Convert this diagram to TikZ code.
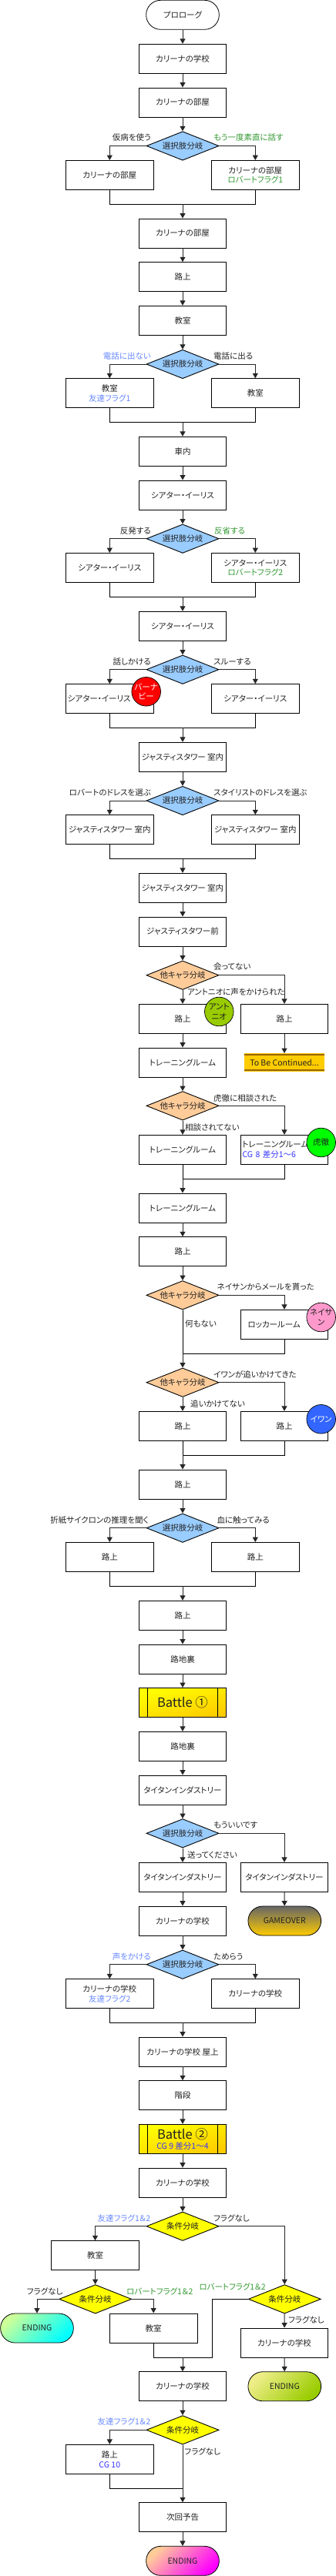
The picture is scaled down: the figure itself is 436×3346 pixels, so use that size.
\documentclass[tikz,border=0pt]{standalone}
\usepackage{fontspec}
\setmainfont[RawFeature={+palt}]{Noto Sans CJK JP}
\usetikzlibrary{arrows.meta,shapes.geometric}
\definecolor{selfill}{HTML}{99CCFF}
\definecolor{charafill}{HTML}{FFCC99}
\definecolor{condfill}{HTML}{FFFF00}
\definecolor{gold}{HTML}{FFCC00}
\definecolor{goldline}{HTML}{996600}
\definecolor{robertc}{HTML}{339933}
\definecolor{friendc}{HTML}{6688FF}
\definecolor{cgc}{HTML}{3333FF}
\definecolor{ink}{HTML}{222222}
\definecolor{leaf}{HTML}{99CC00}
\definecolor{paleleaf}{HTML}{EEEE88}
\definecolor{palemint}{HTML}{CCFF99}
\definecolor{rose}{HTML}{FF99CC}
\definecolor{ivanblue}{HTML}{3366FF}
\tikzset{
  txt/.style={font=\fontsize{10.5}{12.7}\selectfont,text=ink},
  box/.style={txt,draw=black,line width=0.9pt,fill=white,minimum width=113.7pt,minimum height=38pt,inner sep=0pt,align=center},
  leftbox/.style={box,text width=109pt,align=left},
  diam/.style={txt,diamond,draw=black,line width=0.9pt,shape aspect=2.5,minimum width=94pt,minimum height=37.5pt,inner sep=0pt},
  selbr/.style={diam,fill=selfill},
  charabr/.style={diam,fill=charafill},
  condbr/.style={diam,fill=condfill},
  term/.style={txt,draw=black,line width=0.8pt,rounded corners=18.9pt,minimum width=94.7pt,minimum height=38pt,inner sep=0pt},
  battlebox/.style={box,top color=yellow,bottom color=gold,shading angle=15,
    path picture={\draw[line width=0.8pt] ([xshift=11pt]path picture bounding box.north west) -- ([xshift=11pt]path picture bounding box.south west);
      \draw[line width=0.8pt] ([xshift=-11pt]path picture bounding box.north east) -- ([xshift=-11pt]path picture bounding box.south east);}},
  tbcbox/.style={txt,fill=gold,minimum width=104pt,minimum height=23.4pt,inner sep=0pt,
    path picture={\draw[goldline,line width=1.6pt] ([yshift=-1.8pt]path picture bounding box.north west) -- ([yshift=-1.8pt]path picture bounding box.north east);
      \draw[goldline,line width=1.6pt] ([yshift=1.8pt]path picture bounding box.south west) -- ([yshift=1.8pt]path picture bounding box.south east);}},
  chara/.style={txt,circle,draw=black,line width=0.7pt,minimum size=37.6pt,inner sep=0pt,align=center},
  optl/.style={txt,anchor=east,inner sep=0pt},
  optr/.style={txt,anchor=west,inner sep=0pt},
  flow/.style={-{Triangle[length=6.5pt,width=7pt]},line width=1pt,draw=black!85},
  wire/.style={line width=0.9pt,draw=black}
}
\newcommand{\robertflag}[1]{\textcolor{robertc}{#1}}
\newcommand{\friendflag}[1]{\textcolor{friendc}{#1}}
\newcommand{\cgnote}[1]{\textcolor{cgc}{#1}}
\begin{document}
\begin{tikzpicture}[x=1pt,y=-1pt]
\useasboundingbox (0,0) rectangle (436,3346);
\node[term,fill=white] (prologue) at (237,19.3) {プロローグ};
\node[box] (school1) at (237,76.3) {カリーナの学校};
\node[box] (room1) at (237,133) {カリーナの部屋};
\node[selbr] (sel1) at (237,189.5) {選択肢分岐};
\node[box] (room2) at (142.3,227.5) {カリーナの部屋};
\node[box] (room3) at (331.3,227.5) {カリーナの部屋\\\robertflag{ロバートフラグ1}};
\node[optl] (sel1a) at (196,179) {仮病を使う};
\node[optr,text=robertc] (sel1b) at (277,179) {もう一度素直に話す};
\coordinate (join1) at (237,265.3);
\node[box] (room4) at (237,303) {カリーナの部屋};
\node[box] (road1) at (237,359.7) {路上};
\node[box] (class1) at (237,416.3) {教室};
\node[selbr] (sel2) at (237,473) {選択肢分岐};
\node[box] (class2) at (142.3,510.8) {教室\\\friendflag{友達フラグ1}};
\node[box] (class3) at (331.3,510.8) {教室};
\node[optl,text=friendc] (sel2a) at (196,462.7) {電話に出ない};
\node[optr] (sel2b) at (277,462.7) {電話に出る};
\coordinate (join2) at (237,548.3);
\node[box] (car1) at (237,586.3) {車内};
\node[box] (iris1) at (237,643) {シアター・イーリス};
\node[selbr] (sel3) at (237,699.7) {選択肢分岐};
\node[box] (iris2) at (142.3,737.5) {シアター・イーリス};
\node[box] (iris3) at (331.3,737.5) {シアター・イーリス\\\robertflag{ロバートフラグ2}};
\node[optl] (sel3a) at (196,689.3) {反発する};
\node[optr,text=robertc] (sel3b) at (278,689.3) {反省する};
\coordinate (join3) at (237,775.3);
\node[box] (iris4) at (237,813.3) {シアター・イーリス};
\node[selbr] (sel4) at (237,869.7) {選択肢分岐};
\node[leftbox] (iris5) at (142.3,907.7) {シアター・イーリス};
\node[box] (iris6) at (331.3,907.7) {シアター・イーリス};
\node[optl] (sel4a) at (196,859.3) {話しかける};
\node[optr] (sel4b) at (277,859.3) {スルーする};
\coordinate (join4) at (237,945.3);
\node[box] (tower1) at (237,983.3) {ジャスティスタワー 室内};
\node[selbr] (sel5) at (237,1040) {選択肢分岐};
\node[box] (tower2) at (142.3,1077.7) {ジャスティスタワー 室内};
\node[box] (tower3) at (331.3,1077.7) {ジャスティスタワー 室内};
\node[optl] (sel5a) at (196,1029.3) {ロバートのドレスを選ぶ};
\node[optr] (sel5b) at (277,1029.3) {スタイリストのドレスを選ぶ};
\coordinate (join5) at (237,1115.7);
\node[box] (tower4) at (237,1153.3) {ジャスティスタワー 室内};
\node[box] (tower5) at (237,1210) {ジャスティスタワー前};
\node[charabr] (oth1) at (237,1266.7) {他キャラ分岐};
\node[box] (road2) at (237,1323.3) {路上};
\node[box] (road3) at (369,1323.3) {路上};
\node[optr] (oth1a) at (277,1256) {会ってない};
\node[optr] (oth1b) at (243,1288.3) {アントニオに声をかけられた};
\node[box] (train1) at (237,1380) {トレーニングルーム};
\node[tbcbox] (tbc) at (369,1380) {To Be Continued...};
\node[charabr] (oth2) at (237,1436.3) {他キャラ分岐};
\node[box] (train2) at (237,1493.3) {トレーニングルーム};
\node[leftbox] (train3) at (369,1493.3) {トレーニングルーム\\\cgnote{CG 8 差分1〜6}};
\node[optr] (oth2a) at (277,1426.3) {虎徹に相談された};
\node[optr] (oth2b) at (240,1464) {相談されてない};
\coordinate (join6) at (237,1531.3);
\node[box] (train4) at (237,1569) {トレーニングルーム};
\node[box] (road4) at (237,1625.7) {路上};
\node[charabr] (oth3) at (237,1682.3) {他キャラ分岐};
\node[leftbox] (locker) at (369,1720.3) {\hspace*{7pt}ロッカールーム};
\node[optr] (oth3a) at (281.7,1672) {ネイサンからメールを貰った};
\node[optr] (oth3b) at (240,1719.3) {何もない};
\coordinate (join7) at (237,1758);
\node[charabr] (oth4) at (237,1795.7) {他キャラ分岐};
\node[box] (road5) at (237,1852.3) {路上};
\node[box] (road6) at (369,1852.3) {路上};
\node[optr] (oth4a) at (277,1785.3) {イワンが追いかけてきた};
\node[optr] (oth4b) at (247,1823.3) {追いかけてない};
\coordinate (join8) at (237,1890.3);
\node[box] (road7) at (237,1928) {路上};
\node[selbr] (sel6) at (237,1984.7) {選択肢分岐};
\node[box] (road8) at (142.3,2022.5) {路上};
\node[box] (road9) at (331.3,2022.5) {路上};
\node[optl] (sel6a) at (193,1974.3) {折紙サイクロンの推理を聞く};
\node[optr] (sel6b) at (281.3,1974.3) {血に触ってみる};
\coordinate (join9) at (237,2060.3);
\node[box] (road10) at (237,2098.3) {路上};
\node[box] (alley1) at (237,2155) {路地裏};
\node[battlebox,font=\fontsize{16.5}{19}\selectfont] (battle1) at (237,2211.5) {Battle ①};
\node[box] (alley2) at (237,2268.3) {路地裏};
\node[box] (titan1) at (237,2325) {タイタンインダストリー};
\node[selbr] (sel7) at (237,2381.3) {選択肢分岐};
\node[box] (titan2) at (237,2438.3) {タイタンインダストリー};
\node[box] (titan3) at (369,2438.3) {タイタンインダストリー};
\node[optr] (sel7a) at (277,2371) {もういいです};
\node[optr] (sel7b) at (243,2409.7) {送ってください};
\node[box] (school2) at (237,2495) {カリーナの学校};
\node[term,top color=black!60,bottom color=gold] (gameover) at (369.3,2495) {GAMEOVER};
\node[selbr] (sel8) at (237,2551.7) {選択肢分岐};
\node[box] (school3) at (142.3,2589.7) {カリーナの学校\\\friendflag{友達フラグ2}};
\node[box] (school4) at (331.3,2589.7) {カリーナの学校};
\node[optl,text=friendc] (sel8a) at (196,2541.3) {声をかける};
\node[optr] (sel8b) at (277,2541.3) {ためらう};
\coordinate (join10) at (237,2627.3);
\node[box] (roof) at (237,2665) {カリーナの学校 屋上};
\node[box] (stairs) at (237,2721.7) {階段};
\node[battlebox] (battle2) at (237,2778.3) {{\fontsize{16.5}{18}\selectfont Battle ②}\\\cgnote{CG 9 差分1〜4}};
\node[box] (school5) at (237,2835) {カリーナの学校};
\node[condbr] (cond1) at (237,2891.7) {条件分岐};
\node[box] (class4) at (123.5,2929.7) {教室};
\node[optl,text=friendc] (cond1a) at (195.5,2881.3) {友達フラグ1＆2};
\node[optr] (cond1b) at (277,2881.3) {フラグなし};
\node[condbr] (cond2) at (123.7,2986.3) {条件分岐};
\node[term,left color=palemint,middle color=cyan,right color=cyan,shading angle=45] (endc) at (48,3024) {ENDING};
\node[box] (class5) at (199.2,3024) {教室};
\node[optl] (cond2a) at (81.7,2976) {フラグなし};
\node[optr,text=robertc] (cond2b) at (164,2976) {ロバートフラグ1＆2};
\node[condbr] (cond3) at (369.3,2986.3) {条件分岐};
\node[box] (school6) at (369,3043) {カリーナの学校};
\node[optr,text=robertc] (cond3a) at (258.3,2970) {ロバートフラグ1＆2};
\node[optr] (cond3b) at (374,3013.3) {フラグなし};
\coordinate (turn1) at (275,3062);
\coordinate (join11) at (237,3062);
\node[box] (school7) at (237,3099.7) {カリーナの学校};
\node[term,left color=paleleaf,middle color=leaf,right color=leaf,shading angle=45] (endg) at (369.3,3099.7) {ENDING};
\node[condbr] (cond4) at (237,3156.3) {条件分岐};
\node[box] (road11) at (142.3,3194.3) {路上\\\cgnote{CG 10}};
\node[optl,text=friendc] (cond4a) at (195.5,3145.7) {友達フラグ1＆2};
\node[optr] (cond4b) at (239.3,3184.3) {フラグなし};
\coordinate (join12) at (237,3232);
\node[box] (preview) at (237,3269.7) {次回予告};
\node[term,left color=charafill,middle color=magenta,right color=magenta,shading angle=45] (endp) at (237,3326.3) {ENDING};
% characters sit on top of their boxes
\node[chara,fill=red,text=white] (barnaby) at (189.7,898.3) {バーナ\\ビー};
\node[chara,fill=leaf] (antonio) at (284.3,1314) {アント\\ニオ};
\node[chara,fill=green] (kotetsu) at (416.7,1484) {虎徹};
\node[chara,fill=rose] (nathan) at (416.7,1711) {ネイサ\\ン};
\node[chara,fill=ivanblue,text=white] (ivan) at (416.7,1843.3) {イワン};

\draw[flow] (prologue) -- (school1);
\draw[flow] (school1) -- (room1);
\draw[flow] (room1) -- (sel1);
\draw[flow] (sel1.west) -| (room2.north);
\draw[flow] (sel1.east) -| (room3.north);
\draw[wire] (room2.south) |- (join1);
\draw[wire] (room3.south) |- (join1);
\draw[flow] (join1) -- (room4);
\draw[flow] (room4) -- (road1);
\draw[flow] (road1) -- (class1);
\draw[flow] (class1) -- (sel2);
\draw[flow] (sel2.west) -| (class2.north);
\draw[flow] (sel2.east) -| (class3.north);
\draw[wire] (class2.south) |- (join2);
\draw[wire] (class3.south) |- (join2);
\draw[flow] (join2) -- (car1);
\draw[flow] (car1) -- (iris1);
\draw[flow] (iris1) -- (sel3);
\draw[flow] (sel3.west) -| (iris2.north);
\draw[flow] (sel3.east) -| (iris3.north);
\draw[wire] (iris2.south) |- (join3);
\draw[wire] (iris3.south) |- (join3);
\draw[flow] (join3) -- (iris4);
\draw[flow] (iris4) -- (sel4);
\draw[flow] (sel4.west) -| (iris5.north);
\draw[flow] (sel4.east) -| (iris6.north);
\draw[wire] (iris5.south) |- (join4);
\draw[wire] (iris6.south) |- (join4);
\draw[flow] (join4) -- (tower1);
\draw[flow] (tower1) -- (sel5);
\draw[flow] (sel5.west) -| (tower2.north);
\draw[flow] (sel5.east) -| (tower3.north);
\draw[wire] (tower2.south) |- (join5);
\draw[wire] (tower3.south) |- (join5);
\draw[flow] (join5) -- (tower4);
\draw[flow] (tower4) -- (tower5);
\draw[flow] (tower5) -- (oth1);
\draw[flow] (oth1) -- (road2);
\draw[flow] (oth1.east) -| (road3.north);
\draw[flow] (road3) -- (tbc);
\draw[flow] (road2) -- (train1);
\draw[flow] (train1) -- (oth2);
\draw[flow] (oth2) -- (train2);
\draw[flow] (oth2.east) -| (train3.north);
\draw[wire] (train3.south) |- (join6);
\draw[wire] (train2.south) -- (join6);
\draw[flow] (join6) -- (train4);
\draw[flow] (train4) -- (road4);
\draw[flow] (road4) -- (oth3);
\draw[flow] (oth3.east) -| (locker.north);
\draw[wire] (locker.south) |- (join7);
\draw[wire] (oth3.south) -- (join7);
\draw[flow] (join7) -- (oth4);
\draw[flow] (oth4) -- (road5);
\draw[flow] (oth4.east) -| (road6.north);
\draw[wire] (road6.south) |- (join8);
\draw[wire] (road5.south) -- (join8);
\draw[flow] (join8) -- (road7);
\draw[flow] (road7) -- (sel6);
\draw[flow] (sel6.west) -| (road8.north);
\draw[flow] (sel6.east) -| (road9.north);
\draw[wire] (road8.south) |- (join9);
\draw[wire] (road9.south) |- (join9);
\draw[flow] (join9) -- (road10);
\draw[flow] (road10) -- (alley1);
\draw[flow] (alley1) -- (battle1);
\draw[flow] (battle1) -- (alley2);
\draw[flow] (alley2) -- (titan1);
\draw[flow] (titan1) -- (sel7);
\draw[flow] (sel7) -- (titan2);
\draw[flow] (sel7.east) -| (titan3.north);
\draw[flow] (titan2) -- (school2);
\draw[flow] (titan3) -- (gameover);
\draw[flow] (school2) -- (sel8);
\draw[flow] (sel8.west) -| (school3.north);
\draw[flow] (sel8.east) -| (school4.north);
\draw[wire] (school3.south) |- (join10);
\draw[wire] (school4.south) |- (join10);
\draw[flow] (join10) -- (roof);
\draw[flow] (roof) -- (stairs);
\draw[flow] (stairs) -- (battle2);
\draw[flow] (battle2) -- (school5);
\draw[flow] (school5) -- (cond1);
\draw[flow] (cond1.west) -| (class4.north);
\draw[flow] (cond1.east) -| (cond3.north);
\draw[flow] (class4) -- (cond2);
\draw[flow] (cond2.west) -| (endc.north);
\draw[flow] (cond2.east) -| (class5.north);
\draw[wire] (class5.south) |- (join11);
\draw[wire] (cond3.west) -| (turn1) -- (join11);
\draw[flow] (cond3) -- (school6);
\draw[flow] (school6) -- (endg);
\draw[flow] (join11) -- (school7);
\draw[flow] (school7) -- (cond4);
\draw[flow] (cond4.west) -| (road11.north);
\draw[wire] (road11.south) |- (join12);
\draw[flow] (cond4) -- (preview);
\draw[flow] (preview) -- (endp);
\end{tikzpicture}
\end{document}
